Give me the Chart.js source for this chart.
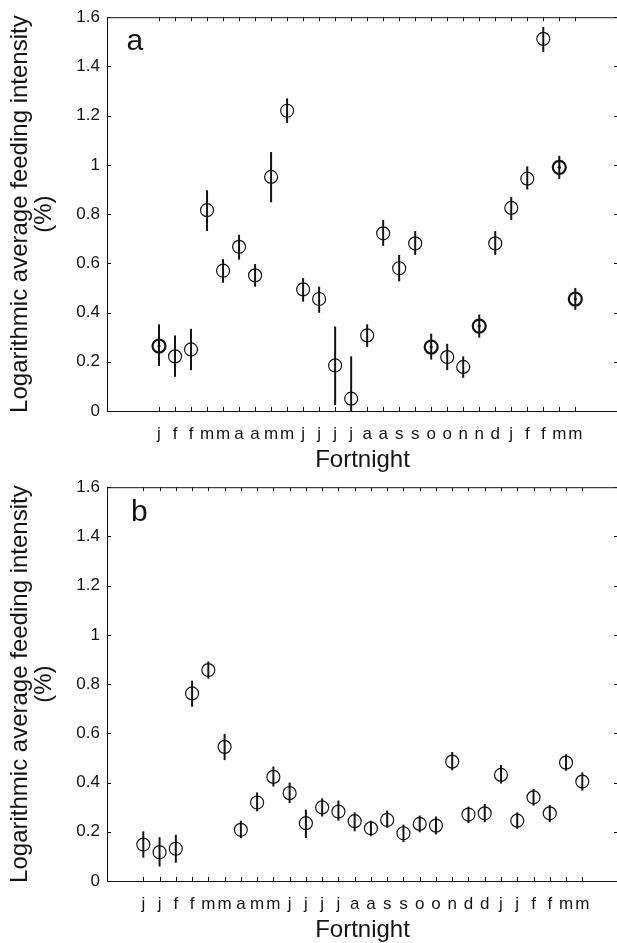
<!DOCTYPE html>
<html>
<head>
<meta charset="utf-8">
<script src="https://cdn.jsdelivr.net/npm/chart.js@4.4.1/dist/chart.umd.min.js"></script>
<style>
    html, body { margin: 0; padding: 0; background: #fff; overflow: hidden; }
    canvas { position: absolute; left: 0; }
</style>
</head>
<body>
<canvas id="chartA" width="640" height="480" style="top:0px"></canvas>
<canvas id="chartB" width="640" height="473" style="top:470px"></canvas>
<script>
/* Data */

// Panel a
const labelsA = ['j', 'f', 'f', 'm', 'm', 'a', 'a', 'm', 'm', 'j', 'j', 'j', 'j', 'a', 'a', 's', 's', 'o', 'o', 'n', 'n', 'd', 'j', 'f', 'f', 'm', 'm'];
const meanA = [0.264, 0.222, 0.250, 0.816, 0.570, 0.667, 0.551, 0.951, 1.220, 0.494, 0.455, 0.185, 0.050, 0.307, 0.722, 0.580, 0.681, 0.260, 0.219, 0.179, 0.345, 0.681, 0.825, 0.944, 1.512, 0.990, 0.455];
const lowA = [0.183, 0.139, 0.166, 0.731, 0.521, 0.615, 0.505, 0.848, 1.170, 0.444, 0.399, 0.024, 0.000, 0.260, 0.671, 0.527, 0.634, 0.209, 0.166, 0.135, 0.298, 0.634, 0.776, 0.900, 1.459, 0.943, 0.411];
const highA = [0.352, 0.307, 0.334, 0.897, 0.617, 0.716, 0.597, 1.052, 1.270, 0.540, 0.505, 0.343, 0.222, 0.352, 0.776, 0.634, 0.731, 0.314, 0.273, 0.222, 0.392, 0.731, 0.869, 0.994, 1.560, 1.037, 0.500];
const boldA = [1, 0, 0, 0, 0, 0, 0, 0, 0, 0, 0, 0, 0, 0, 0, 0, 0, 1, 0, 0, 1, 0, 0, 0, 0, 1, 1];

// Panel b
const labelsB = ['j', 'j', 'f', 'f', 'm', 'm', 'a', 'm', 'm', 'j', 'j', 'j', 'j', 'a', 'a', 's', 's', 'o', 'o', 'n', 'd', 'd', 'j', 'j', 'f', 'f', 'm', 'm'];
const meanB = [0.148, 0.117, 0.131, 0.762, 0.857, 0.545, 0.208, 0.319, 0.423, 0.357, 0.235, 0.299, 0.282, 0.243, 0.214, 0.248, 0.194, 0.232, 0.225, 0.485, 0.270, 0.275, 0.431, 0.245, 0.340, 0.275, 0.481, 0.404];
const lowB = [0.095, 0.059, 0.074, 0.708, 0.822, 0.491, 0.174, 0.283, 0.384, 0.317, 0.175, 0.262, 0.245, 0.202, 0.182, 0.216, 0.158, 0.198, 0.189, 0.450, 0.235, 0.239, 0.396, 0.212, 0.306, 0.239, 0.448, 0.367];
const highB = [0.202, 0.178, 0.188, 0.814, 0.892, 0.598, 0.245, 0.360, 0.465, 0.400, 0.290, 0.336, 0.327, 0.279, 0.245, 0.286, 0.229, 0.266, 0.262, 0.524, 0.302, 0.313, 0.471, 0.279, 0.374, 0.309, 0.515, 0.441];
const boldB = [];

// Shared y axis
const yTickValues = [0, 0.2, 0.4, 0.6, 0.8, 1, 1.2, 1.4, 1.6];
const yTickLabels = ['0', '0.2', '0.4', '0.6', '0.8', '1', '1.2', '1.4', '1.6'];

const ink = '#141414';
const fontFamily = '"Liberation Sans", Arial, Helvetica, sans-serif';

// Vertical error bars, drawn under the circles
function errorBarPlugin(low, high) {
    return {
        id: 'errorBars',
        beforeDatasetsDraw(chart) {
            const xs = chart.scales.x;
            const ys = chart.scales.y;
            const ctx = chart.ctx;
            ctx.save();
            ctx.strokeStyle = ink;
            ctx.lineWidth = 2;
            low.forEach((lo, i) => {
                const px = xs.getPixelForValue(i + 1);
                ctx.beginPath();
                ctx.moveTo(px, ys.getPixelForValue(lo));
                ctx.lineTo(px, ys.getPixelForValue(high[i]));
                ctx.stroke();
            });
            ctx.restore();
        }
    };
}

// Box frame with inward ticks (matlab look) and the panel letter
function framePlugin(letter, letterX, letterY) {
    return {
        id: 'frame',
        afterDraw(chart) {
            const {ctx, chartArea: a} = chart;
            const xs = chart.scales.x;
            const ys = chart.scales.y;
            const tick = 4;
            ctx.save();
            ctx.strokeStyle = ink;
            ctx.lineWidth = 1;
            ctx.beginPath();
            ctx.moveTo(a.left, a.top + 0.5);
            ctx.lineTo(a.right, a.top + 0.5);
            ctx.lineTo(a.right, a.bottom);
            xs.ticks.forEach((t) => {
                const px = Math.round(xs.getPixelForValue(t.value)) + 0.5;
                ctx.moveTo(px, a.bottom);
                ctx.lineTo(px, a.bottom - tick);
                ctx.moveTo(px, a.top);
                ctx.lineTo(px, a.top + tick);
            });
            ys.ticks.forEach((t) => {
                const py = Math.round(ys.getPixelForValue(t.value)) + 0.5;
                ctx.moveTo(a.left, py);
                ctx.lineTo(a.left + tick, py);
                ctx.moveTo(a.right, py);
                ctx.lineTo(a.right - tick, py);
            });
            ctx.stroke();
            ctx.fillStyle = ink;
            ctx.font = `30px ${fontFamily}`;
            ctx.textBaseline = 'alphabetic';
            ctx.fillText(letter, letterX, letterY);
            ctx.restore();
        }
    };
}

function drawPanel(canvasId, p) {
    const ctx = document.getElementById(canvasId).getContext('2d');
    const points = p.mean.map((v, i) => ({x: i + 1, y: v}));
    const dots = p.mean.map((v, i) => ({x: i + 1, y: p.bold[i] ? v : null}));
    return new Chart(ctx, {
        type: 'scatter',
        data: {
            datasets: [
                {
                    data: points,
                    pointRadius: 6.5,
                    pointBorderWidth: p.mean.map((v, i) => p.bold[i] ? 2.2 : 1.2),
                    pointBorderColor: ink,
                    pointBackgroundColor: 'rgba(0,0,0,0)',
                    showLine: false
                },
                {
                    data: dots,
                    pointRadius: 1.6,
                    pointBorderWidth: 0,
                    pointBackgroundColor: ink,
                    showLine: false
                }
            ]
        },
        options: {
            responsive: false,
            animation: false,
            events: [],
            devicePixelRatio: 1,
            layout: {padding: {top: 15, right: 22, left: 0, bottom: 0}},
            plugins: {legend: {display: false}, tooltip: {enabled: false}},
            scales: {
                x: {
                    type: 'linear',
                    min: p.xMin,
                    max: p.xMax,
                    afterBuildTicks: (scale) => {
                        scale.ticks = p.labels.map((l, i) => ({value: i + 1}));
                    },
                    afterFit: (scale) => { scale.height = p.xHeight; },
                    ticks: {
                        autoSkip: false,
                        maxRotation: 0,
                        padding: 5,
                        color: ink,
                        font: {family: fontFamily, size: 17},
                        callback: (value, index) => p.labels[index]
                    },
                    grid: {display: false},
                    border: {display: true, color: ink, width: 1},
                    title: {
                        display: true,
                        text: 'Fortnight',
                        color: ink,
                        font: {family: fontFamily, size: 24, lineHeight: '24px'},
                        padding: {top: 0, bottom: p.titlePad}
                    }
                },
                y: {
                    min: 0,
                    max: 1.6,
                    afterBuildTicks: (scale) => {
                        scale.ticks = yTickValues.map((v) => ({value: v}));
                    },
                    afterFit: (scale) => { scale.width = 107; },
                    ticks: {
                        padding: 7,
                        color: ink,
                        font: {family: fontFamily, size: 17},
                        callback: (value, index) => yTickLabels[index]
                    },
                    grid: {display: false, drawTicks: false},
                    border: {display: true, color: ink, width: 1},
                    title: {
                        display: true,
                        text: ['Logarithmic average feeding intensity', '(%)'],
                        color: ink,
                        font: {family: fontFamily, size: 24, lineHeight: '24px'},
                        padding: {top: 8, bottom: 0}
                    }
                }
            }
        },
        plugins: [errorBarPlugin(p.low, p.high), framePlugin(p.letter, p.letterX, p.letterY)]
    });
}

drawPanel('chartA', {
    labels: labelsA, mean: meanA, low: lowA, high: highA, bold: boldA,
    xMin: -2.248, xMax: 29.667, xHeight: 69, titlePad: 8,
    letter: 'a', letterX: 126.5, letterY: 49.5
});

drawPanel('chartB', {
    labels: labelsB, mean: meanB, low: lowB, high: highB, bold: boldB,
    xMin: -1.233, xMax: 30.196, xHeight: 62, titlePad: 1,
    letter: 'b', letterX: 131, letterY: 51
});
</script>
</body>
</html>
